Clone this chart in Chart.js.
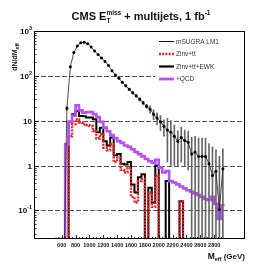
<!DOCTYPE html>
<html>
<head>
<meta charset="utf-8">
<script src="https://cdn.jsdelivr.net/npm/chart.js@4/dist/chart.umd.min.js"></script>
<style>
  html, body { margin: 0; padding: 0; background: #fff; }
</style>
</head>
<body>
<canvas id="meff-chart" width="273" height="273"></canvas>
<script>
// bins of M_eff (GeV), left edges, 50 GeV wide
let binLow = [500, 550, 600, 650, 700, 750, 800, 850, 900, 950,
  1000, 1050, 1100, 1150, 1200, 1250, 1300, 1350, 1400, 1450,
  1500, 1550, 1600, 1650, 1700, 1750, 1800, 1850, 1900, 1950,
  2000, 2050, 2100, 2150, 2200, 2250, 2300, 2350, 2400, 2450,
  2500, 2550, 2600, 2650, 2700, 2750, 2800, 2850, 2900];
let binWidth = 50;

// +QCD (purple)
let qcd = [0, 0, 0, 3, 9.5, 13, 22, 17, 15, 15.5,
  15.5, 14, 12, 9.4, 7, 5.8, 4.8, 4.1, 3.5, 3.2,
  2.8, 2.6, 2.3, 2.0, 1.8, 1.6, 1.4, 1.25, 1.15, 1.35,
  0.9, 0.7, 0.75, 0.45, 0.42, 0.38, 0.34, 0.31, 0.28, 0.26,
  0.24, 0.22, 0.2, 0.18, 0.17, 0.2, 0.14, 0.064, 0.13];
// Zinv+tt+EWK (black)
let zinvTtEwk = [0, 0, 0, 0, 9.5, 14, 16.5, 12.8, 12.5, 11.8,
  11.8, 10.8, 5.5, 7, 3.5, 2.8, 4.2, 1.7, 1.8, 1.1,
  1.05, 1.2, 0.38, 0.25, 0.55, 0.64, 0, 0.32, 0.15, 1.0,
  0, 0, 0.45, 0, 0, 0, 0.16, 0, 0, 0,
  0, 0, 0, 0, 0, 0, 0, 0, 0];
// Zinv+tt (red dotted)
let zinvTt = [0, 0, 0, 0, 4.5, 8.3, 10.8, 9.1, 8.3, 8,
  7.6, 5.9, 4, 5, 2.5, 2.2, 3, 1.2, 1.5, 0.8,
  0.7, 0.9, 0.2, 0.15, 0.45, 0.5, 0, 0.25, 0.12, 0.6,
  0, 0, 0, 0, 0, 0, 0.16, 0, 0, 0,
  0, 0, 0, 0, 0, 0, 0, 0, 0];
// mSUGRA LM1 at bin centres, with errors
let msugra = [0, 0, 0, 19, 160, 330, 460, 550, 560, 520,
  440, 360, 300, 250, 210, 170, 130, 105, 88, 72,
  60, 50, 42, 36, 30, 25, 21, 18, 14, 11.5,
  9.5, 7.5, 6.2, 5.5, 4.5, 3.5, 4.2, 3.6, 3.3, 1.8,
  2.0, 1.6, 1.6, 1.6, 1.1, 0.6, 0.75, 0.105, 0.85];
let msugraErr = [0, 0, 0, 2, 4, 6, 7, 8, 8, 8,
  7, 7, 6, 6, 5, 5, 4.5, 4, 4, 3.5,
  3.5, 3.2, 3, 2.8, 2.6, 2.5, 2.3, 3.5, 3.5, 3.5,
  3.5, 3, 5, 4.5, 3.5, 2.5, 3, 2.6, 2.5, 2.5,
  2.5, 2.5, 2.5, 2.5, 2, 2, 1.5, 1.5, 1.5];

let legendLabels = ["mSUGRA LM1", "Zinv+tt", "Zinv+tt+EWK", "+QCD"];
let xTicks = [600, 800, 1000, 1200, 1400, 1600, 1800, 2000, 2200, 2400, 2600, 2800];
let yTicks = [0.1, 1, 10, 100, 1000];
let yTickBase = ["10", "1", "10", "10", "10"];
let yTickExp = ["-1", "", "", "2", "3"];

const xMin = 505, xMax = 2940, yMin = 0.023, yMax = 1000;
const purple = "#b650f2", red = "#e3262b";

//helpers
function histPoints(vals) {
  let pts = vals.map((v, i) => ({ x: binLow[i], y: v > 0 ? v : yMin }));
  pts.push({ x: binLow[binLow.length - 1] + binWidth, y: pts[pts.length - 1].y });
  return pts;
}

function drawParts(ctx, parts, x, y, align) {
  let w = 0;
  parts.forEach((p) => {
    ctx.font = p.font;
    p.w = ctx.measureText(p.t).width;
    if (p.adv !== false) w += p.w;
  });
  let cx = align === "right" ? x - w : align === "center" ? x - w / 2 : x;
  ctx.textBaseline = "alphabetic";
  ctx.textAlign = "left";
  parts.forEach((p) => {
    ctx.font = p.font;
    ctx.fillText(p.t, cx, y + (p.dy || 0));
    if (p.adv !== false) cx += p.w;
  });
}

// axes, grid, ticks, titles and legend drawn from the chart scales
const framePlugin = {
  id: "frame",
  beforeDatasetsDraw(chart) {
    const { ctx, chartArea: a, scales } = chart;
    ctx.save();
    ctx.strokeStyle = "#555";
    ctx.lineWidth = 1;
    ctx.setLineDash([5, 2]);
    yTicks.forEach((v) => {
      if (v >= yMax) return;
      let py = Math.round(scales.y.getPixelForValue(v)) + 0.5;
      ctx.beginPath();
      ctx.moveTo(a.left, py);
      ctx.lineTo(a.right, py);
      ctx.stroke();
    });
    ctx.restore();
  },
  afterDatasetsDraw(chart) {
    const { ctx, chartArea: a, scales } = chart;
    ctx.save();
    // legend box
    ctx.fillStyle = "#fff";
    ctx.fillRect(155, 33, 88, 51);
    const rows = [41.5, 54, 66.5, 79];
    const styles = [
      { c: "#111", w: 1, d: [] },
      { c: red, w: 2.5, d: [2, 1.2] },
      { c: "#000", w: 2.2, d: [] },
      { c: purple, w: 2.8, d: [] },
    ];
    legendLabels.forEach((label, i) => {
      ctx.strokeStyle = styles[i].c;
      ctx.lineWidth = styles[i].w;
      ctx.setLineDash(styles[i].d);
      ctx.beginPath();
      ctx.moveTo(159, rows[i]);
      ctx.lineTo(174, rows[i]);
      ctx.stroke();
      ctx.setLineDash([]);
      ctx.fillStyle = "#333";
      ctx.font = "6.5px 'Liberation Sans', Arial, sans-serif";
      ctx.textBaseline = "middle";
      ctx.textAlign = "left";
      ctx.fillText(label, 176, rows[i] + 0.5);
    });

    // frame
    ctx.strokeStyle = "#000";
    ctx.lineWidth = 1;
    ctx.strokeRect(a.left + 0.5, a.top + 0.5, a.right - a.left - 1, a.bottom - a.top - 1);

    // y ticks (inside)
    ctx.lineWidth = 0.8;
    for (let d = 0.01; d < yMax; d *= 10) {
      for (let m = 1; m <= 9; m++) {
        let v = m * d;
        if (v < yMin || v > yMax) continue;
        let py = Math.round(scales.y.getPixelForValue(v)) + 0.5;
        ctx.beginPath();
        ctx.moveTo(a.left, py);
        ctx.lineTo(a.left + (m === 1 ? 5 : 2.5), py);
        ctx.stroke();
      }
    }
    // x ticks (inside, from bottom)
    for (let v = 550; v <= xMax; v += 50) {
      let px = Math.round(scales.x.getPixelForValue(v)) + 0.5;
      let len = v % 200 === 0 ? 4 : 2;
      ctx.beginPath();
      ctx.moveTo(px, a.bottom);
      ctx.lineTo(px, a.bottom - len);
      ctx.stroke();
    }

    ctx.fillStyle = "#111";
    // y labels
    yTicks.forEach((v, i) => {
      let py = scales.y.getPixelForValue(v) + 3;
      let parts = [{ t: yTickBase[i], font: "bold 8px 'Liberation Sans', Arial, sans-serif" }];
      if (yTickExp[i]) parts.push({ t: yTickExp[i], font: "bold 5.5px 'Liberation Sans', Arial, sans-serif", dy: -4 });
      drawParts(ctx, parts, a.left - 2, py, "right");
    });
    // x labels
    ctx.font = "bold 5.5px 'Liberation Sans', Arial, sans-serif";
    ctx.textAlign = "center";
    ctx.textBaseline = "alphabetic";
    xTicks.forEach((v) => {
      ctx.fillText(String(v), scales.x.getPixelForValue(v), a.bottom + 8);
    });

    // x title
    drawParts(ctx, [
      { t: "M", font: "bold 8.5px 'Liberation Sans', Arial, sans-serif" },
      { t: "eff", font: "bold 5.5px 'Liberation Sans', Arial, sans-serif", dy: 2 },
      { t: " (GeV)", font: "bold 8px 'Liberation Sans', Arial, sans-serif" },
    ], a.right, 259, "right");

    // y title
    ctx.save();
    ctx.translate(17, 57);
    ctx.rotate(-Math.PI / 2);
    drawParts(ctx, [
      { t: "dN/dM", font: "bold 7px 'Liberation Sans', Arial, sans-serif" },
      { t: "eff", font: "bold 5px 'Liberation Sans', Arial, sans-serif", dy: 2 },
    ], 0, 0, "center");
    ctx.restore();

    // title
    const big = "bold 11px 'Liberation Sans', Arial, sans-serif";
    const small = "bold 6.5px 'Liberation Sans', Arial, sans-serif";
    drawParts(ctx, [
      { t: "CMS E", font: big },
      { t: "T", font: small, dy: 3, adv: false },
      { t: "miss", font: small, dy: -5 },
      { t: " + multijets, 1 fb", font: big },
      { t: "-1", font: small, dy: -5 },
    ], 141, 20, "center");
    ctx.restore();
  },
};

const ctx = document.getElementById("meff-chart").getContext("2d");
const chart = new Chart(ctx, {
  type: "line",
  data: {
    datasets: [
      {
        label: legendLabels[0],
        data: msugra.map((v, i) => ({ x: binLow[i] + binWidth / 2, y: v > 0 ? v : 0.001 })),
        borderColor: "#222",
        borderWidth: 0.8,
        pointRadius: 1.5,
        pointBackgroundColor: "#000",
        pointBorderWidth: 0,
        order: 0,
      },
      {
        type: "bar",
        label: "err",
        data: msugra.map((v, i) => ({
          x: binLow[i] + binWidth / 2,
          y: [Math.max(v - msugraErr[i], 0.001), Math.max(v + msugraErr[i], 0.001)],
        })),
        backgroundColor: "#666",
        barThickness: 1,
        order: 1,
      },
      {
        label: legendLabels[3],
        data: histPoints(qcd),
        stepped: "before",
        borderColor: purple,
        borderWidth: 2.6,
        pointRadius: 0,
        order: 2,
      },
      {
        label: legendLabels[1],
        data: histPoints(zinvTt),
        stepped: "before",
        borderColor: red,
        borderWidth: 2.4,
        borderDash: [2, 1.2],
        pointRadius: 0,
        order: 3,
      },
      {
        label: legendLabels[2],
        data: histPoints(zinvTtEwk),
        stepped: "before",
        borderColor: "#000",
        borderWidth: 2,
        pointRadius: 0,
        order: 4,
      },
    ],
  },
  options: {
    responsive: false,
    animation: false,
    layout: { padding: { left: 34, right: 28, top: 31, bottom: 34 } },
    scales: {
      x: { type: "linear", min: xMin, max: xMax, display: false },
      y: { type: "logarithmic", min: yMin, max: yMax, display: false },
    },
    plugins: {
      legend: { display: false },
      tooltip: { enabled: false },
    },
  },
  plugins: [framePlugin],
});
</script>
</body>
</html>
